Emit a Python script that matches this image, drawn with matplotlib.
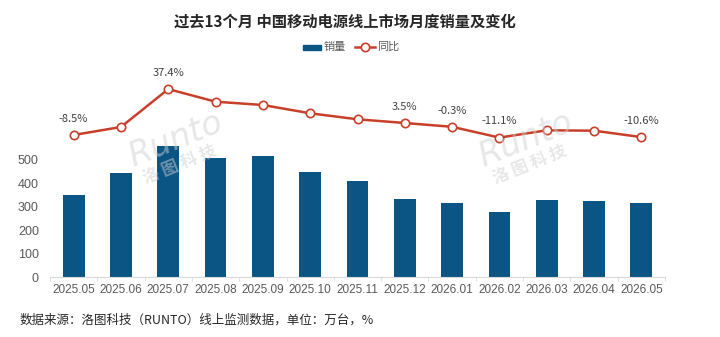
import matplotlib
matplotlib.use("Agg")
import matplotlib.pyplot as plt
import numpy as np

plt.rcParams["font.family"] = ["Noto Sans CJK SC", "DejaVu Sans"]

months = ["2025.05", "2025.06", "2025.07", "2025.08", "2025.09", "2025.10", "2025.11",
          "2025.12", "2026.01", "2026.02", "2026.03", "2026.04", "2026.05"]
sales = [350, 443, 560, 507, 517, 449, 409, 332, 315, 279, 328, 323, 315]
yoy = [-8.5, -0.5, 37.4, 24.8, 21.5, 13.2, 7.2, 3.5, -0.3, -11.1, -3.8, -4.2, -10.6]
labelled = [0, 2, 7, 8, 9, 12]

bar_color = "#0B5585"
line_color = "#C8402A"
grey = "#595959"

fig = plt.figure(figsize=(7.2, 3.37), dpi=100)
ax = fig.add_axes([50 / 720, 60 / 337, 615 / 720, 217 / 337])
x = np.arange(len(months))

ax.bar(x, sales, width=0.46, color=bar_color, zorder=2)
ax.set_xlim(-0.5, len(months) - 0.5)
ax.set_ylim(0, 927)
ax.set_yticks([0, 100, 200, 300, 400, 500])
ax.set_xticks(x)
ax.set_xticklabels(months)
ax.set_xticks(np.arange(-0.5, len(months)), minor=True)
ax.tick_params(axis="x", which="major", length=0, labelsize=8.5, labelcolor=grey, pad=5)
ax.tick_params(axis="x", which="minor", length=3, color="#d9d9d9")
ax.tick_params(axis="y", length=0, labelsize=9, labelcolor=grey, pad=8)
for lab in ax.get_xticklabels() + ax.get_yticklabels():
    lab.set_family(["Liberation Sans", "DejaVu Sans"])
for s in ["top", "right", "left"]:
    ax.spines[s].set_visible(False)
ax.spines["bottom"].set_color("#d9d9d9")

ax2 = ax.twinx()
ax2.plot(x, yoy, color=line_color, lw=1.8, marker="o", ms=6,
         mfc="white", mec=line_color, mew=1.2, zorder=3)
ax2.set_ylim(-150.5, 66.5)
ax2.set_yticks([])
for s in ["top", "right", "left", "bottom"]:
    ax2.spines[s].set_visible(False)
for i in labelled:
    ax2.annotate(f"{yoy[i]:.1f}%", (x[i], yoy[i]), xytext=(0, 8),
                 textcoords="offset points", ha="center", va="bottom",
                 fontsize=8, color="#404040")

# watermarks
for wx in [175, 525]:
    fig.text(wx / 720, 1 - 140 / 337, "Runto", fontsize=24, style="italic",
             color="#d0d0d0", alpha=0.5, rotation=22, ha="center", va="center",
             family="DejaVu Sans")
    fig.text((wx + 5) / 720, 1 - 165 / 337, "洛 图 科 技", fontsize=12,
             color="#d0d0d0", alpha=0.5, rotation=22, ha="center", va="center",
             fontweight="bold")

fig.text(345 / 720, 1 - 22 / 337, "过去13个月 中国移动电源线上市场月度销量及变化",
         ha="center", va="center", fontsize=11, fontweight="bold", color="#262626")

# legend
fig.patches.append(plt.Rectangle((303 / 720, 1 - 50 / 337), 18 / 720, 5 / 337,
                                 transform=fig.transFigure, color=bar_color))
fig.text(324 / 720, 1 - 47 / 337, "销量", fontsize=8, color=grey, va="center")
fig.lines.append(plt.Line2D([355 / 720, 375 / 720], [1 - 47 / 337, 1 - 47 / 337],
                            transform=fig.transFigure, color=line_color, lw=1.8))
fig.lines.append(plt.Line2D([365 / 720], [1 - 47 / 337], transform=fig.transFigure,
                            color=line_color, marker="o", ms=6, mfc="white",
                            mec=line_color, mew=1.2, lw=0))
fig.text(377 / 720, 1 - 47 / 337, "同比", fontsize=8, color=grey, va="center")

fig.text(20 / 720, 1 - 320 / 337, "数据来源：洛图科技（RUNTO）线上监测数据，单位：万台，%",
         fontsize=9, color="#262626", va="center")

fig.savefig("out.png", dpi=100)
